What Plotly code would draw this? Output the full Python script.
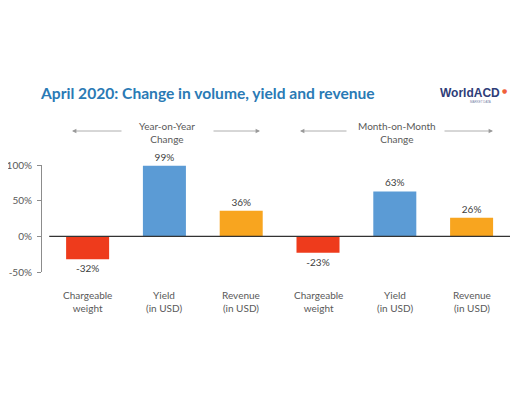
import plotly.graph_objects as go

categories = ["Chargeable<br>weight", "Yield<br>(in USD)", "Revenue<br>(in USD)",
              "Chargeable<br>weight", "Yield<br>(in USD)", "Revenue<br>(in USD)"]
values = [-32, 99, 36, -23, 63, 26]
bar_colors = ["#ee3b1c", "#5b9bd5", "#f8a51f", "#ee3b1c", "#5b9bd5", "#f8a51f"]
y_tickvals = [-50, 0, 50, 100]
y_ticktext = ["-50%", "0%", "50%", "100%"]
group_labels = ["Year-on-Year<br>Change", "Month-on-Month<br>Change"]

O = 8  # page body margin
W, H = 527 - O, 397 - O
L, R, T, B = 42 - O, 17, 165 - O, 125
PW, PH = W - L - R, H - T - B


def px(x):
    return (x - O - L) / PW


def py(y):
    return (H - B - (y - O)) / PH


FONT = "Lato"
xs = list(range(len(values)))

fig = go.Figure()
fig.add_trace(go.Bar(
    x=xs, y=values, marker=dict(color=bar_colors, line=dict(width=0)),
    width=0.56,
    text=[f"{v}%" for v in values], textposition="outside",
    textfont=dict(family=FONT, size=10, color="#404040"),
    cliponaxis=False, hoverinfo="skip",
))

# zero line
fig.add_shape(type="line", xref="x", yref="y", x0=-0.5, x1=5.5, y0=0, y1=0,
              line=dict(color="#333333", width=1.3))

# category labels
for i, c in enumerate(categories):
    fig.add_annotation(x=i, xref="x", y=py(301), yref="paper", text=c, showarrow=False,
                       xanchor="center", yanchor="middle",
                       font=dict(family=FONT, size=10, color="#595959"), align="center")

# group labels with arrows
group_specs = [(167, (123, 72), (212, 260)), (397, (348, 300), (443, 493))]
for lab, (cx, la, ra) in zip(group_labels, group_specs):
    fig.add_annotation(x=px(cx), y=py(132), xref="paper", yref="paper", text=lab,
                       xanchor="center", yanchor="middle",
                       showarrow=False, font=dict(family=FONT, size=10, color="#595959"),
                       align="center")
    for tail, head in (la, ra):
        fig.add_annotation(x=px(head), y=py(131), xref="paper", yref="paper",
                           ax=tail - head, ay=0, axref="pixel", ayref="pixel",
                           text="", showarrow=True, arrowhead=2, arrowsize=1.1,
                           arrowwidth=0.8, arrowcolor="#9a9a9a")

# title
fig.add_annotation(x=px(38), y=py(93), xref="paper", yref="paper", xanchor="left",
                   yanchor="middle",
                   text="<b>April 2020: Change in volume, yield and revenue</b>",
                   showarrow=False, font=dict(family=FONT, size=15.6, color="#2a7ab5"))
# logo
fig.add_annotation(x=px(502), y=py(93), xref="paper", yref="paper", xanchor="right",
                   yanchor="middle", text="<b>WorldACD</b>", showarrow=False,
                   font=dict(family="Liberation Sans", size=12, color="#2e3d78"))
fig.add_annotation(x=px(504), y=py(91), xref="paper", yref="paper",
                   xanchor="center", yanchor="middle",
                   text="●", showarrow=False,
                   font=dict(family="DejaVu Sans", size=6, color="#f0603a"))
fig.add_annotation(x=px(493), y=py(102), xref="paper", yref="paper", xanchor="right",
                   yanchor="middle", text="MARKET DATA", showarrow=False,
                   font=dict(family="Liberation Sans", size=3, color="#7a84a8"))

fig.update_layout(
    width=W, height=H, margin=dict(l=L, r=R, t=T, b=B, autoexpand=False),
    paper_bgcolor="white", plot_bgcolor="white", showlegend=False,
    xaxis=dict(range=[-0.594, 5.5], visible=False, fixedrange=True, automargin=False),
    yaxis=dict(range=[-50, 100], tickvals=y_tickvals, ticktext=y_ticktext,
               showgrid=False, zeroline=False, showline=True, linecolor="#8c8c8c",
               linewidth=1, ticks="outside", ticklen=4, tickcolor="#8c8c8c",
               automargin=False,
               tickfont=dict(family=FONT, size=10, color="#595959"), ticklabelstandoff=3),
)

fig.write_html("out.html")
